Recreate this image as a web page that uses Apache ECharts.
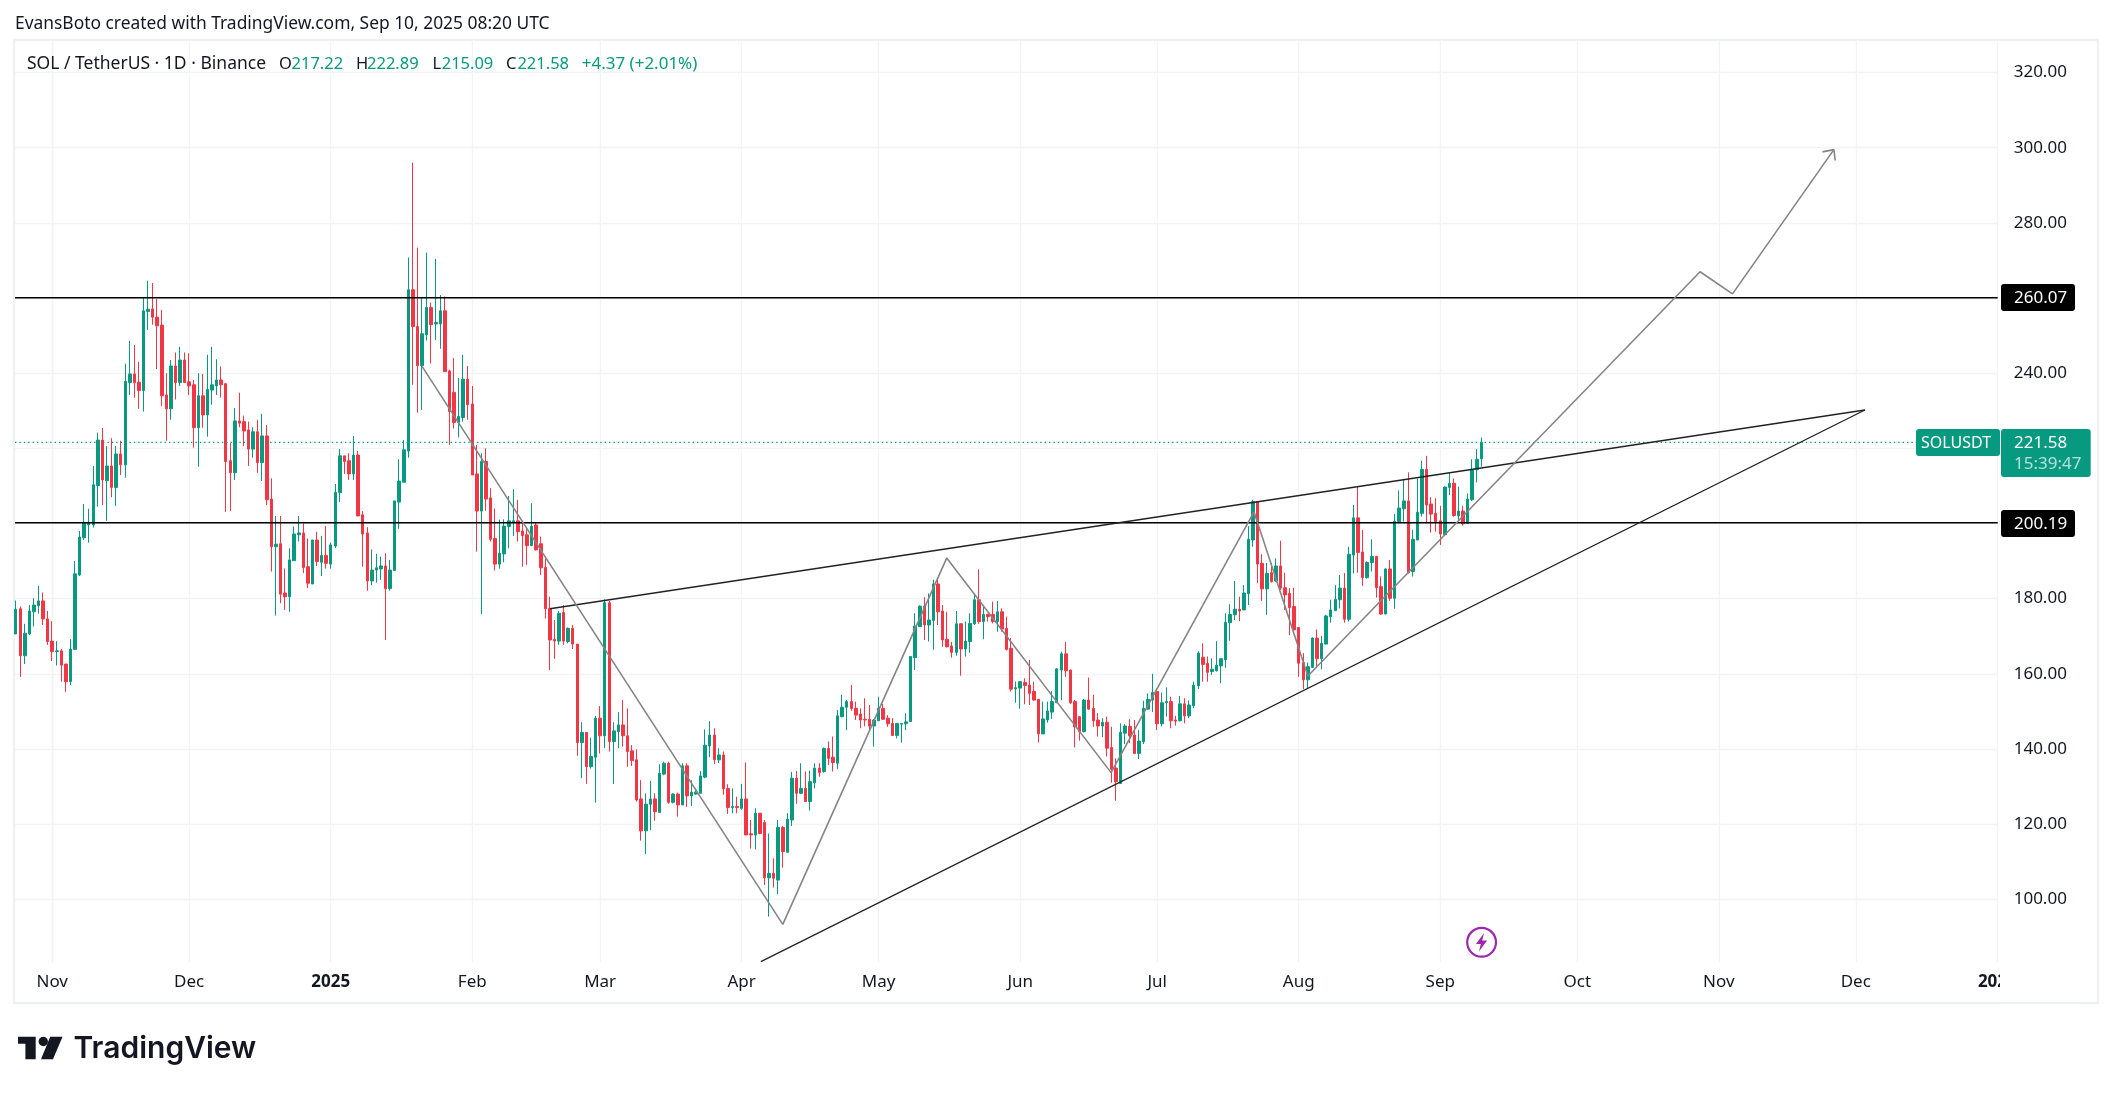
<!DOCTYPE html>
<html>
<head>
<meta charset="utf-8">
<style>html,body{margin:0;padding:0;background:#fff}#c{width:2114px;height:1094px}</style>
<script src="https://cdn.jsdelivr.net/npm/echarts@6/dist/echarts.min.js"></script>
</head>
<body>
<div id="c"></div>
<script>
// Day number of each candle: 0 = 1 Nov 2024, first visible candle = -8
const firstDay = -8;
const opens = [
170.6,177.3,164.8,170.6,176.5,178.1,179.4,174.6,168.7,165.9,
166.1,162.6,157.9,166.5,186.3,196.2,199.6,199.6,210.1,222.2,
211.4,215.3,209.6,218.5,215.6,237.5,239.8,237.6,235.4,256.4,
257.1,254.9,252.8,234.2,230.5,241.9,237.5,243.5,237.7,236.9,
225.5,234,228.9,235.5,236.6,238.2,237.2,216.7,213.5,227.3,
227.1,224.9,219.8,224.4,216.2,223.3,206.5,193.8,194.6,181.5,
180.5,190.1,197,197.5,188.5,183.9,195.6,189.7,191.5,189.2,
194,208.2,218,216.7,213.2,218.2,202.3,197.5,184.7,187.6,
187.9,188.7,182.7,187.5,205.7,211,219.3,262.2,252.4,242,
250.2,257.5,253.1,253.1,256.6,240.6,234.9,226.9,228.2,238.4,
231.8,213.2,203.3,216.5,206.8,196,189.2,191.9,199.2,200.3,
200.7,198,197,194.1,199.6,194.6,188.3,177.4,169.2,168.7,
176.3,168.6,172.1,167.9,141.7,144.4,135.3,137.8,148.2,143.5,
178.9,142,144.6,146.4,143.5,139.5,137.1,126.7,118.2,125.3,
126.7,123.1,133.3,136.2,125.8,128,125.1,135.5,127.5,128,
128.2,132.5,140.8,143.7,137.1,138.4,129.5,124.4,124.7,124.2,
126.7,117.4,117.1,122.9,120.4,105.7,106.9,105.1,119.1,112.5,
121.1,132.2,128.2,129.5,126,131,134.9,134,140.1,137.8,
136.2,148.6,151.1,152.6,150.8,149.3,147.9,147.9,146.1,147.5,
150.8,148.2,146.8,143.6,146.6,146.7,147.3,164.3,172.6,178,
173,174.2,183.9,176.7,169.2,167.4,165.7,173.3,166.6,168.6,
173.3,179.7,173.9,175.8,175.8,173.9,176.5,172.1,166.8,156,
156.2,157.7,157,155.3,153.2,144,147.7,149.8,152.3,161,
165.3,161,152.6,148.6,144.6,153,150.8,147.7,146.1,147.1,
140.4,134.9,130.8,144.2,146,143.7,138.8,141.9,150.6,153,
155.3,146.7,152.3,152.6,147.7,147.5,152,148.8,151.5,156.8,
164.4,162.8,160.6,160.8,162.1,163.7,173.6,175.7,177.2,177,
181.3,195.6,205.8,189.4,182.6,186.9,184.7,188.7,182.9,181.4,
177.9,172.3,163,158.4,161.7,169.5,164,167.9,175.2,176.8,
179.7,182.8,174.5,191.6,201.5,192.4,185.6,189.6,191.2,183.2,
175.9,187.9,180.1,200.5,203.9,206,187.2,195.6,202.7,214.4,
205.2,202.7,200.7,197,209.6,210.7,202,203.3,200,206.3,
214.3,217.22];
const closes = [
177.2,164.8,170.8,176.7,178.3,179.4,174.6,168.6,165.9,166.1,
162.3,157.9,166.6,186.6,196.4,200.1,200.1,210.3,222.2,211.6,
215.3,209.6,218.5,215.6,237.8,239.8,237.5,235.4,256.6,257,
254.9,252.6,234,230.5,241.9,237.5,243.5,237.5,236.6,225.5,
234,228.9,235.7,236.9,238.2,236.9,216.5,213.5,227.3,226.7,
224.6,219.8,224.4,216.2,223.3,206.3,193.8,194.5,181.2,180.5,
190.3,197.2,197.5,188.3,184.1,195.6,189.9,191.5,189.4,194.3,
208.3,218,216.5,213.2,218.2,202,197.2,184.7,187.6,188.2,
188.7,182.7,187.6,206,211.3,219.6,262.2,252.4,242,250.5,
257.5,252.9,253.5,256.6,240.4,229.8,226.9,228.5,238.4,231.6,
212.9,203.3,216.5,206.5,195.8,189.2,192.1,199.3,200.7,200.7,
197.8,196.8,194.1,199.2,193,188.2,177.3,169,168.7,176.1,
168.7,172.1,167.9,141.7,144.4,135.3,138,148.2,143.5,178.9,
142,144.8,146.4,143.5,139.3,136.9,126.4,118.2,125.3,126.7,
123.3,133.5,136.2,125.8,128,125.1,135.5,127.5,128.5,128.5,
132.8,141,143.7,137.1,138.4,129.4,124.4,124.7,124.4,126.7,
117.1,117.1,122.9,117.5,105.7,106.9,105.6,119.1,112.7,121.3,
132.2,128.2,129.5,126,131.3,134.9,133.7,140.1,137.5,136.4,
148.8,151.1,152.6,150.8,149,147.7,147.7,146.1,147.7,150.8,
147.9,146.7,143.6,146.8,146.8,147.2,164.6,172.7,178,173,
174.3,183.9,176.5,169,167.2,165.7,173.3,166.6,168.7,173.4,
179.7,173.9,175.8,175.2,173.9,176.5,171.9,166.5,155.9,156.3,
157.9,156.9,154.8,153,144,148,150.1,152.6,161.3,165.3,
160.8,152.3,145.9,144.6,153,150.6,147.5,146.1,147.1,140.2,
134.6,131.3,144.4,146.1,143.5,138.8,142.1,150.8,153.2,155,
146.7,152.3,152.6,147.5,147.4,152,148.8,151.7,157,165.5,
162.5,160.4,161.2,162.3,164,173.7,175.8,177.2,176.7,181.5,
195.8,205.8,189.2,182.6,186.7,184.5,188.7,182.8,181,177.6,
171.7,162.8,158.4,161.9,169.5,164,168.1,175.4,177,179.8,
182.8,174.5,191.8,201.5,192.3,185.6,189.6,191.2,182.9,175.9,
187.9,180.1,200.6,204.1,206,186.9,195.8,203,214.4,204.9,
202.5,200.5,197.2,209.7,210.7,202.1,203.3,199.9,206.5,214.4,
217.1,221.58];
const lows = [
170.6,159.2,162.6,170.3,172.6,176,173,167.7,163.4,162.2,
157.9,155.2,157,166.3,186,195.6,194.9,198.9,204.5,204.9,
200.7,207,204.7,212.9,212.2,234.2,233.5,230.5,229.8,251.5,
252.9,241.1,231.3,222,227.6,233,236.6,237.5,234.2,220.2,
215.1,225.5,223.1,231.6,234.2,233.5,203.1,203.3,211.6,225.6,
220.6,215.3,217.5,213.5,211.3,204.9,187.2,175.5,178.8,177,
176.5,190.1,195.2,186.8,182.8,183.9,188.7,186,188,188,
193.5,205.7,213.2,211.6,211.6,202,188.5,182.1,183.6,184.3,
185,169,182.1,187.5,198.6,211,217.5,236.9,229.5,230.2,
248.7,242.6,248.8,246.5,240.4,220.9,225.3,222.9,227.1,227.6,
212.9,192.5,175.9,203.4,195.2,187.5,188,189.7,193.4,196.7,
195.2,188.5,189,194,192.8,186.3,174.7,161,164,167.7,
167.7,168.1,166.6,138.2,132.2,130.7,134.8,125.7,138.8,140.2,
139.3,130.7,140.2,140.6,135.3,135.5,126,115.6,112,118.4,
120.9,123.1,133,125.4,125.5,122,125.1,124.6,124.8,127.8,
128.2,132.2,137.8,136,136.2,127.8,122.7,122.9,122.9,123.8,
117.1,113.5,113.3,117.3,103.8,95.4,103.1,101.4,108.4,112.5,
119.5,125.4,128,126,123.6,129.5,132.6,133.7,135.7,134,
134.6,148.4,145,150.2,147.7,145.5,146,145,140.6,147.5,
147.7,145.9,143.5,142.8,141.7,145,147.3,161,172.6,169,
168.6,166.4,173,167.2,167,164.3,164.8,159.5,164.6,165.6,
173,173.3,169.2,173.9,173.4,171.2,171.2,166.2,155.3,152.3,
150.7,151.9,151.7,152.9,141.7,144,147,148,152.2,153,
159.2,152,140.4,142.2,144.4,150.4,145.9,143.3,143.1,138,
131,126.2,130.8,141.3,141.5,138.6,137.3,141.3,150.5,149.8,
145,146,148.6,145.5,146.2,147.3,146.8,148.2,150.8,156,
157.9,157.9,159.7,160.6,157.5,161.6,168.8,174.3,174,177,
178.3,193.8,184.1,179.4,175.7,184.3,184.5,182.3,177,170.3,
171.5,159.2,155.9,156.1,161.5,161.5,161.2,167.9,173.6,176.8,
177.4,173.6,173.9,186.7,186.9,183.4,185.3,187.2,180.3,175.7,
175.9,179.4,177.3,200.3,200.5,186.7,185.9,195.6,201.8,200.1,
197.6,197.8,194.3,197,207.6,201.8,201,199.4,200,206,
210.9,215.09];
const highs = [
179.5,177.9,173.3,178.3,180.1,183.4,181.6,176.7,174,168.7,
166.6,162.6,169.2,190,198,205.2,203.9,215.3,224.2,225.4,
220.6,222.7,220.6,222,242.5,248.6,247.5,243,260.1,264.6,
264,259.8,256.8,240,243.5,245.5,247,245.5,245.3,238.2,
240,239.8,244.9,247,243.7,241.8,237.2,221.4,230.7,234.8,
228.7,227.1,225.6,227.6,229.2,226.2,212,202,202,188,
193.4,199.2,202,200,196,195.6,197.8,196.7,199.3,194.9,
210.5,219.8,218,218.7,223.3,219.3,203.3,199,193.1,191.9,
191.2,192.1,190.3,206,217.1,222.2,270.8,296,273.4,260.1,
272.1,258.8,270.4,260.8,260.4,240.9,244,238.7,244.9,241.9,
236.6,220.9,218.7,220,209.4,204,201,201.1,207.3,209.1,
206.3,200.8,198.5,205.4,200.2,196.5,190.7,180.5,174.3,176.7,
178.3,172.3,173,167.9,147.1,144.4,143,148.8,151.4,179.8,
179.4,147.1,149.8,153,150.8,141,139.9,131.7,128.2,131.5,
128.2,135.9,136.6,136.6,128.2,128.4,136.2,136.2,131.7,129.5,
134.1,145.2,147.4,145.5,140.2,139.3,130.6,129.5,127.3,130.7,
136.4,121.1,124.2,122.9,121.1,117.5,110.9,121.1,119.5,122.9,
133.9,134.1,136.2,134,134.2,136.2,136.2,140.4,142,143.3,
150.4,154.4,153,157,152.6,150.8,153.5,151.7,147.9,153.9,
152,149,148.2,146.9,146.9,149.5,164.7,176.1,178.2,180.4,
181.4,185,185,178.3,176.5,168.5,176.7,173.5,173.9,176.1,
181,187.8,178,176,179.2,179.4,177.4,175.2,169.5,157.9,
158,158.8,163.7,157.9,153.3,152.6,152.6,155.4,161.5,165.9,
168.5,161.1,153,148.7,153.3,159,154.4,149.5,148.2,148.6,
145.9,137.5,146.8,146.6,147.9,147.7,145,152.8,154.8,160,
156,155,156.4,153.9,148.8,154.1,153.5,152.9,157.9,166,
168.1,164.6,164.1,168.7,164.1,176.1,178.5,184.7,180.5,183.6,
199.3,206.3,205.9,191.8,189.5,189.5,190.7,195.4,186.9,182.8,
182.9,172.4,165.5,163,169.7,171.8,170.1,175.7,179.7,183.6,
186.3,186.8,193.8,204.9,209.8,198.3,189.9,195.8,191.4,185.9,
188,190.3,202.5,208.8,211.9,213.6,198.3,212,216.7,218,
207,206.7,204.7,209.9,213.4,212,209.8,204.7,208,217.1,
219.8,222.89];

// Axis ticks
const monthDays = [0,30,61,92,120,151,181,212,242,273,304,334,365,395,426];
const monthLabels = ['Nov','Dec','2025','Feb','Mar','Apr','May','Jun','Jul','Aug','Sep','Oct','Nov','Dec','2026'];
const priceTicks = [100,120,140,160,180,200,220,240,260,280,300,320];

// Drawings, in [day, price]
const hLevels = [260.07, 200.19];
const lastPrice = 221.58;
const upperWedge = [[109,177.3],[397,230.2]];
const lowerWedge = [[155.2,83.4],[397,230.2]];
const zigzag = [[81,241.8],[160,93.3],[195.9,190.8],[231.9,133.7],[263.2,203.1],[275,159.4],[360.9,267],[368,261.1],[390.2,299.5]];
const arrowHead = [[387.7,298.9],[390.2,299.5],[390.5,296.6]];

const xMin = -8.15, xMax = 426.08;
const FONT = '"Noto Sans", sans-serif';
const UP = '#089981', DOWN = '#F23645', GRID = '#f2f3f5', INK = '#131722';

const candles = opens.map((o,i)=>[firstDay+i,o,closes[i],lows[i],highs[i]]);
const labelByDay = {}; monthDays.forEach((d,i)=>labelByDay[d]=monthLabels[i]);

function lineSeries(data,color,width,type,z){
  return {type:'line',data,showSymbol:false,symbol:'none',silent:true,z:z||5,animation:false,clip:true,
    lineStyle:{color,width,type:type||'solid'}};
}
function label(text,x,y,color,size){
  return {type:'text',z:100,x,y,style:{text,fill:color,font:`${size}px ${FONT}`,textVerticalAlign:'middle',verticalAlign:'middle'}};
}
function badge(x,y,w,h,fill){
  return {type:'rect',z:99,shape:{x,y,width:w,height:h,r:3},style:{fill}};
}

const chart = echarts.init(document.getElementById('c'),null,{renderer:'canvas',width:2114,height:1094});
const legendY = 64.5;
chart.setOption({
  animation:false,
  backgroundColor:'#ffffff',
  grid:{left:15,top:41,width:1982.7,height:921,containLabel:false},
  xAxis:{type:'value',min:xMin,max:xMax,
    axisLine:{show:false},axisTick:{show:false,customValues:monthDays},
    splitLine:{show:true,lineStyle:{color:GRID,width:1.3}},
    axisLabel:{customValues:monthDays,margin:12,color:INK,fontSize:17,fontFamily:FONT,
      hideOverlap:false,showMinLabel:true,showMaxLabel:true,
      formatter:v=>{const t=labelByDay[v];return /^\d+$/.test(t)?`{b|${t}}`:t;},
      rich:{b:{fontWeight:'bold',fontSize:17,fontFamily:FONT,color:INK}}}},
  yAxis:{type:'value',position:'right',min:83.3,max:328.4,scale:true,
    axisLine:{show:true,lineStyle:{color:GRID,width:1.3}},axisTick:{show:false,customValues:priceTicks},
    splitLine:{show:true,lineStyle:{color:GRID,width:1.3}},
    axisLabel:{customValues:priceTicks,margin:16,padding:[5,0,0,0],color:INK,fontSize:17,fontFamily:FONT,formatter:v=>v.toFixed(2)}},
  series:[
    {type:'candlestick',data:candles,barWidth:3,z:3,silent:true,clip:true,
      itemStyle:{color:UP,color0:DOWN,borderColor:UP,borderColor0:DOWN,borderColorDoji:UP,borderWidth:1}},
    lineSeries([[xMin,hLevels[0]],[xMax,hLevels[0]]], '#000000',1.3),
    lineSeries([[xMin,hLevels[1]],[xMax,hLevels[1]]], '#000000',1.3),
    lineSeries([[xMin,lastPrice],[408.2,lastPrice]], UP,1.4,[1.4,3]),
    lineSeries(upperWedge,'#222222',1.35),
    lineSeries(lowerWedge,'#222222',1.35),
    lineSeries(zigzag,'#858585',1.6),
    lineSeries(arrowHead,'#858585',1.6)
  ],
  graphic:[
    {type:'rect',z:1,shape:{x:14,y:40,width:2084,height:963},style:{fill:'none',stroke:'#f0f1f3',lineWidth:2.4}},
    {type:'rect',z:98,shape:{x:2000,y:964,width:80,height:38},style:{fill:'#ffffff'}},
    label('EvansBoto created with TradingView.com, Sep 10, 2025 08:20 UTC',15,24,INK,17.4),
    label('SOL / TetherUS · 1D · Binance',27,legendY,INK,17.5),
    label('O',279,legendY,INK,16.5), label('217.22',291.5,legendY,UP,16.5),
    label('H',356,legendY,INK,16.5), label('222.89',367,legendY,UP,16.5),
    label('L',432.5,legendY,INK,16.5), label('215.09',441.7,legendY,UP,16.5),
    label('C',506,legendY,INK,16.5), label('221.58',517.4,legendY,UP,16.5),
    label('+4.37 (+2.01%)',581.7,legendY,UP,17),
    badge(2001,284,74,27,'#000000'), label('260.07',2014,298.3,'#ffffff',17),
    badge(2001,510,74,27,'#000000'), label('200.19',2014,524.3,'#ffffff',17),
    badge(1916,429,84,27,UP), label('SOLUSDT',1921,443.5,'#ffffff',16),
    badge(2001,429,89.7,48,UP), label('221.58',2014,443.5,'#ffffff',17),
    label('15:39:47',2014,464,'#b5e1d8',17),
    {type:'circle',z:99,shape:{cx:1481.6,cy:942.3,r:14.4},style:{fill:'#ffffff',stroke:'#9c27b0',lineWidth:2.2}},
    {type:'polygon',z:100,shape:{points:[[1484,933],[1476,944],[1480.8,944],[1479,951.5],[1487,940.5],[1482.2,940.5]]},style:{fill:'#9c27b0'}},
    {type:'polygon',z:100,shape:{points:[[18,1036.7],[35.7,1036.7],[35.7,1059.3],[25.4,1059.3],[25.4,1043.8],[18,1043.8]]},style:{fill:'#131722'}},
    {type:'circle',z:100,shape:{cx:43.3,cy:1041.5,r:4.7},style:{fill:'#131722'}},
    {type:'polygon',z:100,shape:{points:[[50.2,1036.7],[62.5,1036.7],[53,1059.3],[41,1059.3]]},style:{fill:'#131722'}},
    {type:'text',z:100,x:73.5,y:1049,style:{text:'TradingView',fill:'#131722',font:'600 30px Inter, sans-serif',verticalAlign:'middle',textVerticalAlign:'middle'}}
  ]
});
</script>
</body>
</html>
